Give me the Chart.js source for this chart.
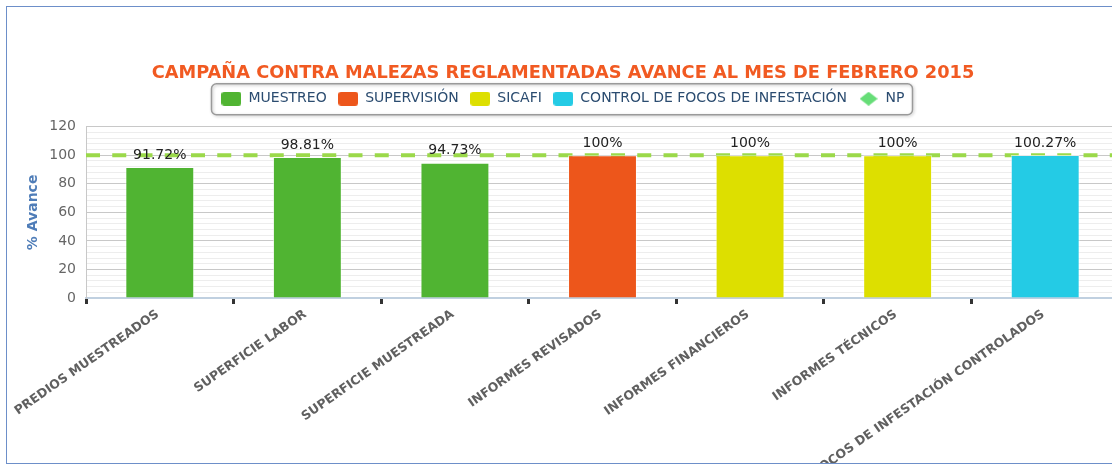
<!DOCTYPE html>
<html>
<head>
<meta charset="utf-8">
<script src="https://cdn.jsdelivr.net/npm/chart.js@4.4.1/dist/chart.umd.min.js"></script>
<style>
    html, body { margin: 0; padding: 0; background: #fff; overflow: hidden; }
    #frame {
        position: absolute; left: 6px; top: 6px; width: 1200px; height: 456px;
        border: 1px solid #6d8fc9; overflow: hidden; background: #fff;
    }
    #chart { position: absolute; left: 0; top: 0; }
</style>
</head>
<body>
<div id="frame"><canvas id="chart" width="1120" height="456"></canvas></div>
<script>
// Chart data
const categories = [
    'PREDIOS MUESTREADOS',
    'SUPERFICIE LABOR',
    'SUPERFICIE MUESTREADA',
    'INFORMES REVISADOS',
    'INFORMES FINANCIEROS',
    'INFORMES TÉCNICOS',
    'FOCOS DE INFESTACIÓN CONTROLADOS'
];
const muestreo = [91.72, 98.81, 94.73, null, null, null, null];
const supervision = [null, null, null, 100, null, null, null];
const sicafi = [null, null, null, null, 100, 100, null];
const controlFocos = [null, null, null, null, null, null, 100.27];
const npPoints = [{ x: 0, y: 100 }, { x: 7, y: 100 }];
const yMin = 0;
const yMax = 120;

const FONT = "'DejaVu Sans', Verdana, sans-serif";

function legendSwatch(color) {
    const c = document.createElement('canvas');
    c.width = 20; c.height = 14;
    const g = c.getContext('2d');
    g.fillStyle = color;
    g.beginPath();
    g.roundRect(0, 0, 20, 14, 3);
    g.fill();
    return c;
}

function legendDiamond(color) {
    const c = document.createElement('canvas');
    c.width = 18; c.height = 14;
    const g = c.getContext('2d');
    g.fillStyle = color;
    g.beginPath();
    g.moveTo(9, 0); g.lineTo(18, 7); g.lineTo(9, 14); g.lineTo(0, 7);
    g.closePath();
    g.fill();
    return c;
}

// extra room between legend and plot area
const legendPadPlugin = {
    id: 'legendPad',
    beforeInit(chart) {
        const fit = chart.legend.fit;
        chart.legend.fit = function () {
            fit.bind(chart.legend)();
            this.height += 11;
        };
    }
};

const legendBoxPlugin = {
    id: 'legendBox',
    afterDraw(chart) {
        const boxes = chart.legend.legendHitBoxes;
        if (!boxes || !boxes.length) return;
        const first = boxes[0];
        const last = boxes[boxes.length - 1];
        const x = first.left - 10;
        const y = first.top - 8;
        const w = last.left + last.width + 8 - x;
        const h = 31;
        const ctx = chart.ctx;
        ctx.save();
        ctx.shadowColor = 'rgba(0,0,0,0.25)';
        ctx.shadowBlur = 3;
        ctx.shadowOffsetX = 1;
        ctx.shadowOffsetY = 1;
        ctx.strokeStyle = '#9a9a9a';
        ctx.lineWidth = 1.5;
        ctx.beginPath();
        ctx.roundRect(x, y, w, h, 5);
        ctx.stroke();
        ctx.restore();
    }
};

const valueLabelPlugin = {
    id: 'valueLabels',
    afterDatasetsDraw(chart) {
        const ctx = chart.ctx;
        ctx.save();
        ctx.font = '14px ' + FONT;
        ctx.fillStyle = '#222';
        ctx.textAlign = 'center';
        ctx.textBaseline = 'middle';
        chart.data.datasets.forEach((ds, i) => {
            if (ds.type === 'line') return;
            const meta = chart.getDatasetMeta(i);
            meta.data.forEach((bar, j) => {
                const v = ds.data[j];
                if (v === null || v === undefined) return;
                ctx.fillText(v + '%', bar.x, bar.y - 12);
            });
        });
        ctx.restore();
    }
};

const barCommon = {
    type: 'bar',
    grouped: false,
    borderWidth: 1,
    borderColor: 'rgba(255,255,255,0.6)',
    categoryPercentage: 0.467,
    barPercentage: 1,
    order: 0
};

new Chart(document.getElementById('chart'), {
    data: {
        labels: categories,
        datasets: [
            Object.assign({}, barCommon, { label: 'MUESTREO', data: muestreo, backgroundColor: '#50B432', pointStyle: legendSwatch('#50B432') }),
            Object.assign({}, barCommon, { label: 'SUPERVISIÓN', data: supervision, backgroundColor: '#ED561B', pointStyle: legendSwatch('#ED561B') }),
            Object.assign({}, barCommon, { label: 'SICAFI', data: sicafi, backgroundColor: '#DDDF00', pointStyle: legendSwatch('#DDDF00') }),
            Object.assign({}, barCommon, { label: 'CONTROL DE FOCOS DE INFESTACIÓN', data: controlFocos, backgroundColor: '#24CBE5', pointStyle: legendSwatch('#24CBE5') }),
            {
                type: 'line',
                label: 'NP',
                data: npPoints,
                xAxisID: 'xNP',
                borderColor: '#9BD94A',
                backgroundColor: '#66DD77',
                borderWidth: 4,
                borderDash: [14, 12.25],
                pointRadius: 0,
                pointStyle: legendDiamond('#66DD77'),
                order: 1
            }
        ]
    },
    options: {
        responsive: false,
        animation: false,
        layout: { padding: { left: 0, right: 8, top: 0, bottom: 0 } },
        plugins: {
            tooltip: { enabled: false },
            title: {
                display: true,
                text: 'CAMPAÑA CONTRA MALEZAS REGLAMENTADAS AVANCE AL MES DE FEBRERO 2015',
                color: '#F15A22',
                font: { family: FONT, size: 17.8, weight: 'bold', lineHeight: 0.8 },
                padding: { top: 59, bottom: 0 }
            },
            legend: {
                position: 'top',
                labels: {
                    usePointStyle: true,
                    pointStyleWidth: 20,
                    boxHeight: 14,
                    padding: 11.5,
                    color: '#2B4C70',
                    font: { family: FONT, size: 14 }
                }
            }
        },
        scales: {
            x: {
                type: 'category',
                offset: true,
                grid: {
                    display: true,
                    offset: true,
                    drawOnChartArea: false,
                    drawTicks: true,
                    tickLength: 6,
                    tickWidth: 3,
                    tickColor: '#333'
                },
                border: { display: true, color: '#C0D0E0', width: 2 },
                ticks: {
                    autoSkip: false,
                    minRotation: 35,
                    maxRotation: 35,
                    padding: 3,
                    labelOffset: -2,
                    color: '#606060',
                    font: { family: FONT, size: 12.5, weight: 'bold' }
                },
                afterFit(scale) { scale.height = 165; }
            },
            xNP: {
                type: 'linear',
                min: 0,
                max: 7,
                display: false
            },
            y: {
                min: yMin,
                max: yMax,
                title: {
                    display: true,
                    text: '% Avance',
                    color: '#4F7DB8',
                    font: { family: FONT, size: 14, weight: 'bold' },
                    padding: { top: 18, bottom: 0 }
                },
                ticks: {
                    stepSize: 4,
                    maxTicksLimit: 31,
                    autoSkip: false,
                    padding: 10,
                    color: '#666',
                    font: { family: FONT, size: 14 },
                    callback: v => (v % 20 === 0 ? v : '')
                },
                grid: {
                    drawTicks: false,
                    color: c => (c.tick && c.tick.value % 20 === 0 ? '#C8C8C8' : '#EDEDED'),
                    lineWidth: 1
                },
                border: { display: true, color: '#C8C8C8', width: 1 },
                afterFit(scale) { scale.width = 79; }
            }
        }
    },
    plugins: [legendPadPlugin, legendBoxPlugin, valueLabelPlugin]
});
</script>
</body>
</html>
